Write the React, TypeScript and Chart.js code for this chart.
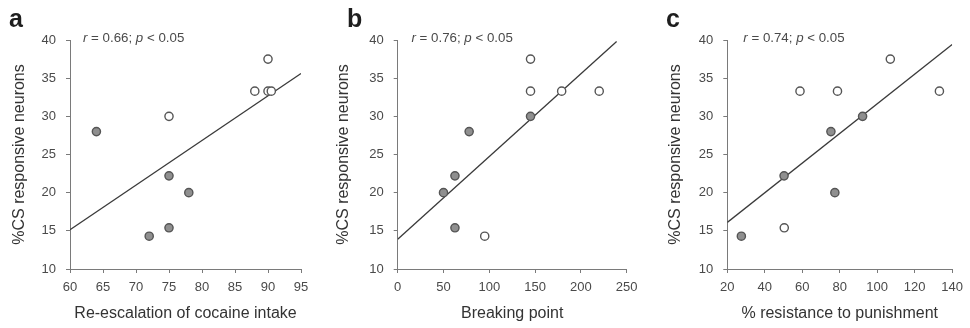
import React, { useEffect, useRef } from "react";
import { Chart, registerables } from "chart.js";

Chart.register(...registerables);

// ---- data ----
const yTickMin = 10;
const yTickMax = 40;
const yTickStep = 5;
const yTitle = "%CS responsive neurons";

const aOpenX = [75, 88, 90, 90, 90.5];
const aOpenY = [30, 33.3, 37.5, 33.3, 33.3];
const aFilledX = [64, 72, 75, 75, 78];
const aFilledY = [28, 14.3, 22.2, 15.4, 20];
const aFitX = [60, 95];
const aFitY = [15.15, 35.6];

const bOpenX = [145, 145, 179, 220, 95];
const bOpenY = [37.5, 33.3, 33.3, 33.3, 14.3];
const bFilledX = [145, 78, 62.5, 50, 62.5];
const bFilledY = [30, 28, 22.2, 20, 15.4];
const bFitX = [0, 239];
const bFitY = [13.9, 39.8];

const cOpenX = [58.8, 78.8, 107, 133.2, 50.4];
const cOpenY = [33.3, 33.3, 37.5, 33.3, 15.4];
const cFilledX = [27.5, 50.3, 75.3, 77.4, 92.2];
const cFilledY = [14.3, 22.2, 28, 20, 30];
const cFitX = [20, 140];
const cFitY = [16.1, 39.4];

const panelLetters = ["a", "b", "c"];
const rValues = ["0.66", "0.76", "0.74"];
const pText = "0.05";
const xTitles = [
  "Re-escalation of cocaine intake",
  "Breaking point",
  "% resistance to punishment",
];
const xMins = [60, 0, 20];
const xMaxs = [95, 250, 140];
const xSteps = [5, 50, 20];

// ---- layout / style ----
const FONT = "'Liberation Sans', Arial, Helvetica, sans-serif";
const TEXT = "#4a4a4a";
const AXIS = "#7a7a7a";
const W = 970;
const H = 328;
const PLOT_TOP = 40;
const PLOT_BOTTOM = 269;
const BOTTOM_PAD = 0.4;

const layouts = [
  { left: 70, right: 301, titleLeft: 5.9, letterX: 9, annX: 83 },
  { left: 397.7, right: 626.7, titleLeft: 330.4, letterX: 347, annX: 411.5 },
  { left: 727.3, right: 957.3, titleLeft: 661.6, letterX: 666, annX: 743.3 },
];

const zip = (xs: number[], ys: number[]) => xs.map((x, i) => ({ x, y: ys[i] }));

const series = [
  { open: zip(aOpenX, aOpenY), filled: zip(aFilledX, aFilledY), fit: zip(aFitX, aFitY) },
  { open: zip(bOpenX, bOpenY), filled: zip(bFilledX, bFilledY), fit: zip(bFitX, bFitY) },
  { open: zip(cOpenX, cOpenY), filled: zip(cFilledX, cFilledY), fit: zip(cFitX, cFitY) },
];

function makeTextPlugin(idx: number) {
  return {
    id: "panelText" + idx,
    afterDraw(chart: any) {
      const ctx = chart.ctx;
      const lay = layouts[idx];
      ctx.save();
      ctx.fillStyle = "#1e1e1e";
      ctx.textBaseline = "alphabetic";
      ctx.textAlign = "left";
      ctx.font = `bold 25px ${FONT}`;
      ctx.fillText(panelLetters[idx], lay.letterX, 27);
      const segs: [string, boolean][] = [
        ["r", true],
        [" = " + rValues[idx] + "; ", false],
        ["p", true],
        [" < " + pText, false],
      ];
      let x = lay.annX;
      ctx.fillStyle = TEXT;
      for (const [t, it] of segs) {
        ctx.font = `${it ? "italic " : ""}13.3px ${FONT}`;
        ctx.fillText(t, x, 42);
        x += ctx.measureText(t).width;
      }
      ctx.restore();
    },
  };
}

function makeConfig(idx: number): any {
  const lay = layouts[idx];
  const s = series[idx];
  const tickFont = { family: FONT, size: 13 };
  const titleFont = { family: FONT, size: 16 };
  return {
    type: "scatter",
    data: {
      datasets: [
        {
          data: s.fit,
          showLine: true,
          pointRadius: 0,
          borderColor: "#3a3a3a",
          borderWidth: 1.3,
          order: 3,
        },
        {
          data: s.filled,
          pointRadius: 4.1,
          backgroundColor: "#8f8f8f",
          borderColor: "#555555",
          borderWidth: 1.4,
          order: 1,
        },
        {
          data: s.open,
          pointRadius: 4.1,
          backgroundColor: "#ffffff",
          borderColor: "#555555",
          borderWidth: 1.4,
          order: 1,
        },
      ],
    },
    options: {
      responsive: false,
      animation: false,
      events: [],
      layout: {
        padding: { left: lay.titleLeft, right: W - lay.right, top: PLOT_TOP, bottom: BOTTOM_PAD },
      },
      plugins: { legend: { display: false }, tooltip: { enabled: false } },
      scales: {
        x: {
          type: "linear",
          min: xMins[idx],
          max: xMaxs[idx],
          ticks: { stepSize: xSteps[idx], font: tickFont, color: TEXT, padding: 7, maxRotation: 0, autoSkip: false },
          grid: { display: true, drawOnChartArea: false, drawTicks: true, tickLength: 4, color: AXIS },
          border: { display: true, color: AXIS, width: 1 },
          title: { display: true, text: xTitles[idx], font: titleFont, color: "#333", padding: { top: 4, bottom: 4 } },
          afterFit: (sc: any) => {
            sc.height = H - BOTTOM_PAD - PLOT_BOTTOM;
          },
        },
        y: {
          type: "linear",
          min: yTickMin,
          max: yTickMax,
          ticks: { stepSize: yTickStep, font: tickFont, color: TEXT, padding: 10 },
          grid: { display: true, drawOnChartArea: false, drawTicks: true, tickLength: 4, color: AXIS },
          border: { display: true, color: AXIS, width: 1 },
          title: { display: true, text: yTitle, font: titleFont, color: "#333", padding: { top: 4, bottom: 4 } },
          afterFit: (sc: any) => {
            sc.width = lay.left - lay.titleLeft;
          },
        },
      },
    },
    plugins: [makeTextPlugin(idx)],
  };
}

function Panel({ idx }: { idx: number }) {
  const ref = useRef<HTMLCanvasElement>(null);
  useEffect(() => {
    if (!ref.current) return;
    const chart = new Chart(ref.current, makeConfig(idx));
    return () => chart.destroy();
  }, [idx]);
  return (
    <canvas
      ref={ref}
      width={W}
      height={H}
      style={{ position: "absolute", left: 0, top: 0, width: W, height: H }}
    />
  );
}

export default function App() {
  return (
    <div style={{ position: "absolute", left: 0, top: 0, width: W, height: H, background: "#fff" }}>
      <Panel idx={0} />
      <Panel idx={1} />
      <Panel idx={2} />
    </div>
  );
}
